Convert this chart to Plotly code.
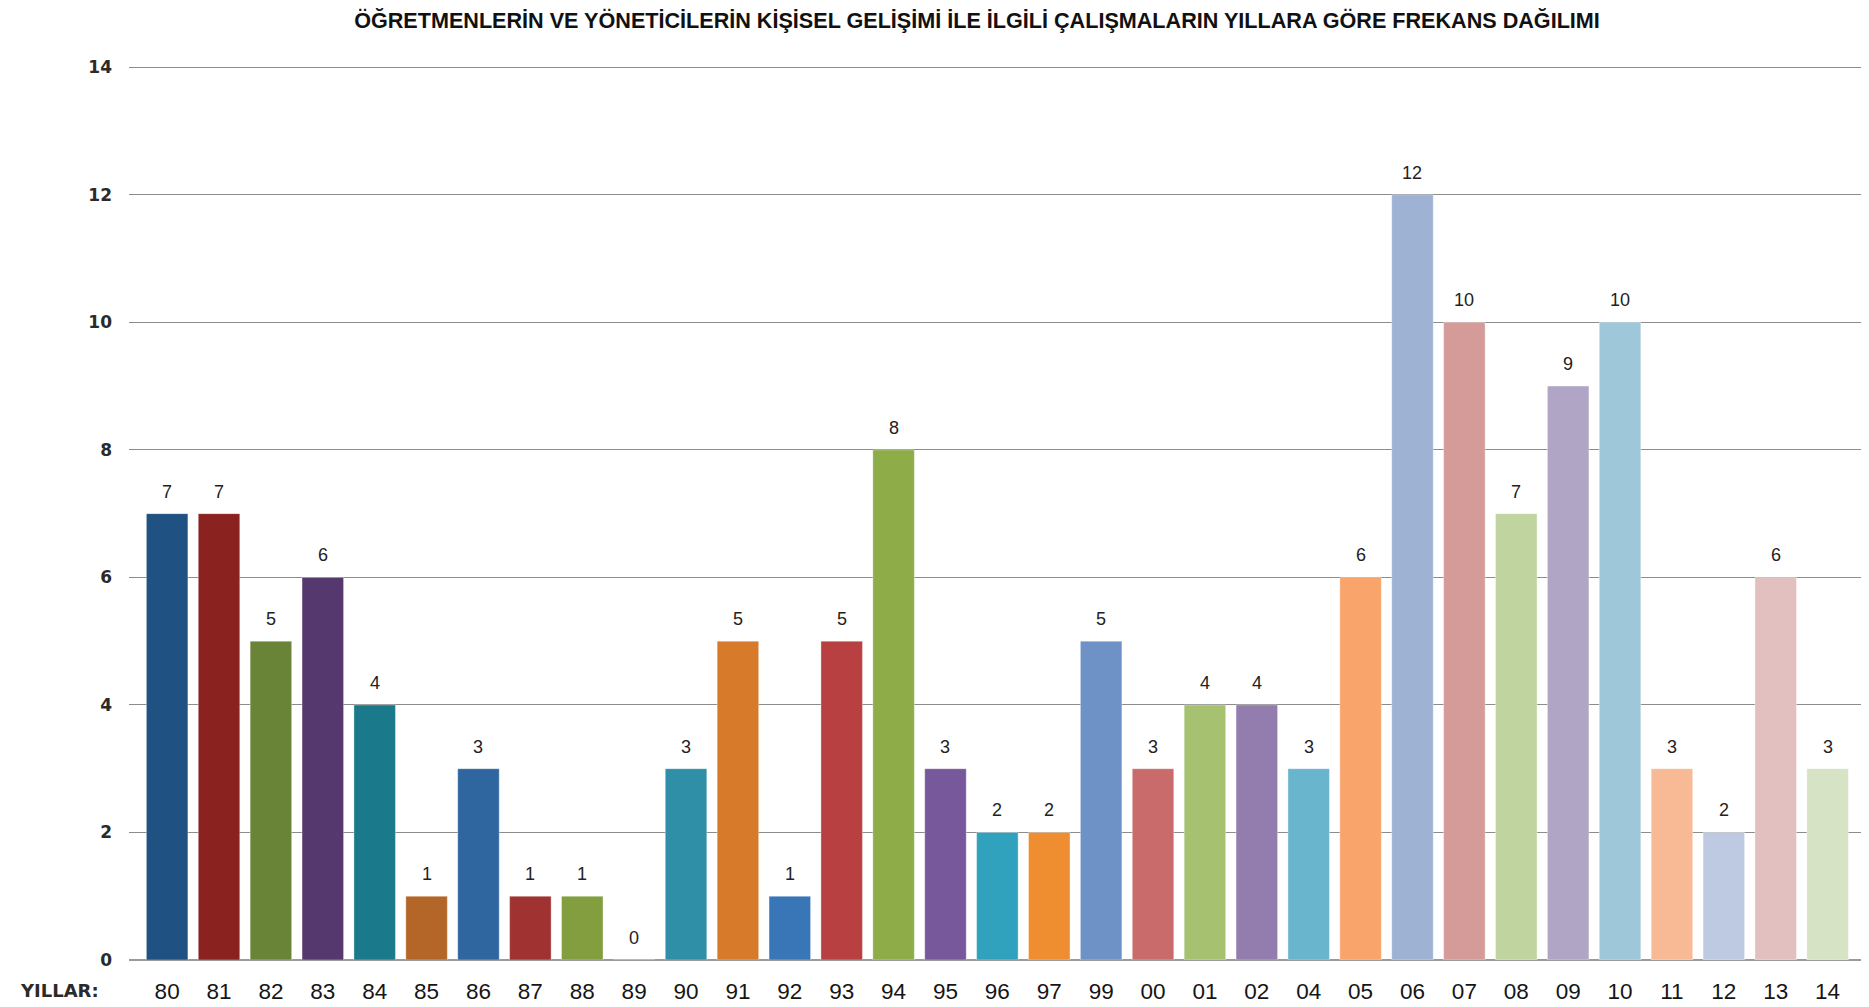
import plotly.graph_objects as go

years = ["80", "81", "82", "83", "84", "85", "86", "87", "88", "89", "90", "91", "92", "93", "94", "95", "96",
         "97", "99", "00", "01", "02", "04", "05", "06", "07", "08", "09", "10", "11", "12", "13", "14"]
counts = [7, 7, 5, 6, 4, 1, 3, 1, 1, 0, 3, 5, 1, 5, 8, 3, 2,
          2, 5, 3, 4, 4, 3, 6, 12, 10, 7, 9, 10, 3, 2, 6, 3]
colors = ["#1F5283", "#8A2320", "#6A8437", "#54386E", "#1A798B", "#B36628", "#2F66A0", "#A03232", "#829E3F",
          "#2E8FA6", "#2F8FA6", "#D77A2A", "#3876B8", "#B84040", "#8EAD48", "#77589A", "#31A2BD",
          "#EF8D31", "#6E91C6", "#C96B6A", "#A6C270", "#937CAE", "#69B5CD", "#F8A46A", "#9EB2D4",
          "#D59B99", "#C0D4A0", "#B0A5C4", "#9EC7D9", "#F8BA94", "#BECAE1", "#E1C0BF", "#D6E3C5"]
title = "ÖĞRETMENLERİN VE YÖNETİCİLERİN KİŞİSEL GELİŞİMİ İLE İLGİLİ ÇALIŞMALARIN YILLARA GÖRE FREKANS DAĞILIMI"
axis_label = "YILLAR:"
y_ticks = [0, 2, 4, 6, 8, 10, 12, 14]

# page body has an 8px margin: figure origin sits at (8, 8) in the window
OFF = 8
W, H = 1869 - OFF, 1007 - OFF
ML, MT = 129 - OFF, 65.6 - OFF
MR = W - (1866 - OFF)
MB = H - (959.6 - OFF)

fig = go.Figure()
fig.add_trace(go.Bar(
    x=list(range(len(years))), y=counts,
    marker=dict(color=colors, line=dict(width=1, color="rgba(255,255,255,0.35)")),
    width=0.8, hoverinfo="x+y",
))

annotations = []
for i, v in enumerate(counts):
    annotations.append(dict(x=i, y=v, xref="x", yref="y", text=str(v), showarrow=False,
                            yanchor="middle", yshift=22,
                            font=dict(family="Liberation Sans", size=18, color="#222")))
plot_w = W - ML - MR
plot_h = H - MT - MB
annotations.append(dict(x=(18 - OFF - ML) / plot_w, y=-(990 - 959.6) / plot_h, xref="paper", yref="paper",
                        text=axis_label, showarrow=False, xanchor="left", yanchor="middle",
                        font=dict(family="DejaVu Sans", size=18, color="#2a2a2a", weight="bold")))

fig.update_layout(
    width=W, height=H,
    margin=dict(l=ML, r=MR, t=MT, b=MB, autoexpand=False),
    paper_bgcolor="white", plot_bgcolor="white",
    showlegend=False,
    title=dict(text=title, x=969 / W, xanchor="center", xref="container",
               y=1 - 12.5 / H, yanchor="middle", yref="container",
               font=dict(family="Liberation Sans", size=21.6, color="#111", weight="bold")),
    xaxis=dict(
        tickmode="array", tickvals=list(range(len(years))), ticktext=years,
        range=[-0.735, 32.74], showgrid=False, zeroline=False, showline=False,
        ticks="", ticklabelstandoff=15, automargin=False,
        tickfont=dict(family="Liberation Sans", size=22.5, color="#151515"),
    ),
    yaxis=dict(
        range=[0, 14.02], tickmode="array", tickvals=y_ticks,
        showgrid=True, gridcolor="#8c8c8c", gridwidth=1,
        zeroline=True, zerolinecolor="#9a9a9a", zerolinewidth=2,
        showline=False, ticks="", ticklabelstandoff=16, automargin=False,
        tickfont=dict(family="DejaVu Sans", size=17, color="#2a2a2a", weight="bold"),
    ),
    annotations=annotations,
)

fig.write_html("out.html")
